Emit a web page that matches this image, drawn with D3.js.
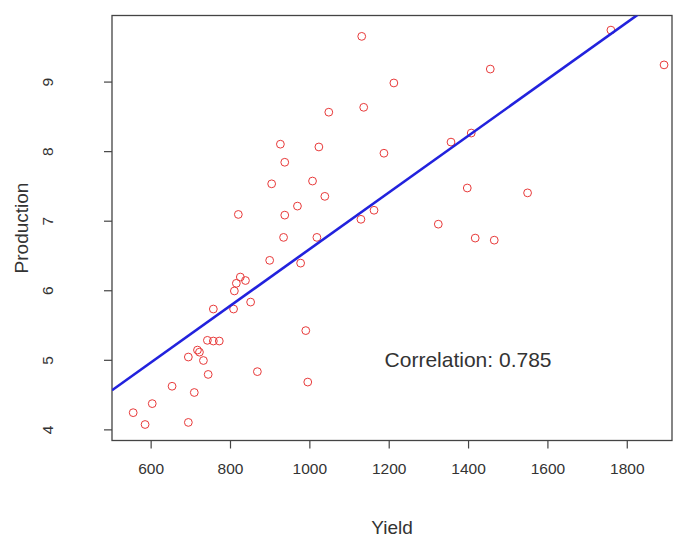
<!DOCTYPE html>
<html>
<head>
<meta charset="utf-8">
<script src="https://cdn.jsdelivr.net/npm/d3@7"></script>
<style>
  body { margin: 0; background: #fff; }
  text { font-family: "Liberation Sans", Arial, sans-serif; fill: #333; }
</style>
</head>
<body>
<svg id="chart" width="681" height="538"></svg>
<script>
// Yield vs Production
const yieldValues = [1132, 1213, 1049, 1137, 1456, 1894, 1760, 1408, 1357, 1398, 1550,
  927, 1024, 1188, 938, 905, 1008, 1039, 970, 938, 1130, 1163, 1325, 1418, 1466,
  935, 1019, 900, 978, 821, 826, 839, 816, 811, 852, 758, 809, 991, 743, 758, 773,
  723, 718, 695, 733, 745, 869, 996, 654, 710, 604, 556, 586, 695]
const productionValues = [9.65, 8.98, 8.56, 8.63, 9.18, 9.24, 9.74, 8.26, 8.13, 7.47, 7.40,
  8.10, 8.06, 7.97, 7.84, 7.53, 7.57, 7.35, 7.21, 7.08, 7.02, 7.15, 6.95, 6.75, 6.72,
  6.76, 6.76, 6.43, 6.39, 7.09, 6.19, 6.14, 6.10, 5.99, 5.83, 5.73, 5.73, 5.42, 5.28, 5.27, 5.27,
  5.11, 5.14, 5.04, 4.99, 4.79, 4.83, 4.68, 4.62, 4.53, 4.37, 4.24, 4.07, 4.10]

const xTicks = [600, 800, 1000, 1200, 1400, 1600, 1800]
const yTicks = [4, 5, 6, 7, 8, 9]

// fitted line (intercept, slope) and the label
const fitLine = [2.515, 0.004074]
const correlationLabel = "Correlation: 0.785"
const labelAt = [1400, 5]

let svg = d3.select("#chart")

let margin = { left: 112, right: 9, top: 15.5, bottom: 97.5 },
  width = 681 - margin.left - margin.right,
  height = 538 - margin.top - margin.bottom

let x = d3.scaleLinear()
  .domain([502.6, 1914])
  .range([0, width])

let y = d3.scaleLinear()
  .domain([3.84, 9.95])
  .range([height, 0])

let g = svg.append("g")
  .attr("transform", `translate(${margin.left},${margin.top})`)

g.append("defs").append("clipPath")
  .attr("id", "plotclip")
  .append("rect")
  .attr("width", width)
  .attr("height", height)

// axes
let xAxis = g.append("g")
  .attr("transform", `translate(0,${height})`)
  .call(d3.axisBottom(x).tickValues(xTicks).tickFormat(d3.format("d"))
    .tickSize(8).tickPadding(14).tickSizeOuter(0))

let yAxis = g.append("g")
  .call(d3.axisLeft(y).tickValues(yTicks).tickFormat(d3.format("d"))
    .tickSize(8).tickSizeOuter(0))

xAxis.select(".domain").remove()
yAxis.select(".domain").remove()

svg.selectAll(".tick line")
  .attr("stroke", "#444")
  .attr("stroke-width", 1.2)

xAxis.selectAll("text")
  .style("font-size", "15.5px")
  .attr("fill", "#333")

yAxis.selectAll("text")
  .style("font-size", "15.5px")
  .attr("fill", "#333")
  .attr("text-anchor", "middle")
  .attr("dy", null)
  .attr("dominant-baseline", "central")
  .attr("x", null)
  .attr("transform", "translate(-65,0) rotate(-90)")

// box
g.append("rect")
  .attr("width", width)
  .attr("height", height)
  .attr("fill", "none")
  .attr("stroke", "#444")
  .attr("stroke-width", 1.3)

// points
let points = yieldValues.map((v, i) => ({ yield: v, prod: productionValues[i] }))

g.append("g")
  .selectAll("circle")
  .data(points)
  .enter()
  .append("circle")
  .attr("cx", d => x(d.yield))
  .attr("cy", d => y(d.prod))
  .attr("r", 3.9)
  .attr("fill", "none")
  .attr("stroke", "#e83a3a")
  .attr("stroke-width", 1)

// regression line across the whole x range
let xd = x.domain()
g.append("line")
  .attr("clip-path", "url(#plotclip)")
  .attr("x1", x(xd[0]))
  .attr("y1", y(fitLine[0] + fitLine[1] * xd[0]))
  .attr("x2", x(xd[1]))
  .attr("y2", y(fitLine[0] + fitLine[1] * xd[1]))
  .attr("stroke", "#2222dd")
  .attr("stroke-width", 2.6)

g.append("text")
  .attr("x", x(labelAt[0]))
  .attr("y", y(labelAt[1]))
  .attr("text-anchor", "middle")
  .attr("dominant-baseline", "central")
  .style("font-size", "21px")
  .text(correlationLabel)

// axis titles
svg.append("text")
  .attr("x", margin.left + width / 2)
  .attr("y", 527)
  .attr("text-anchor", "middle")
  .attr("dominant-baseline", "central")
  .style("font-size", "19px")
  .text("Yield")

svg.append("text")
  .attr("transform", `translate(21,${margin.top + height / 2}) rotate(-90)`)
  .attr("text-anchor", "middle")
  .attr("dominant-baseline", "central")
  .style("font-size", "19px")
  .text("Production")
</script>
</body>
</html>
